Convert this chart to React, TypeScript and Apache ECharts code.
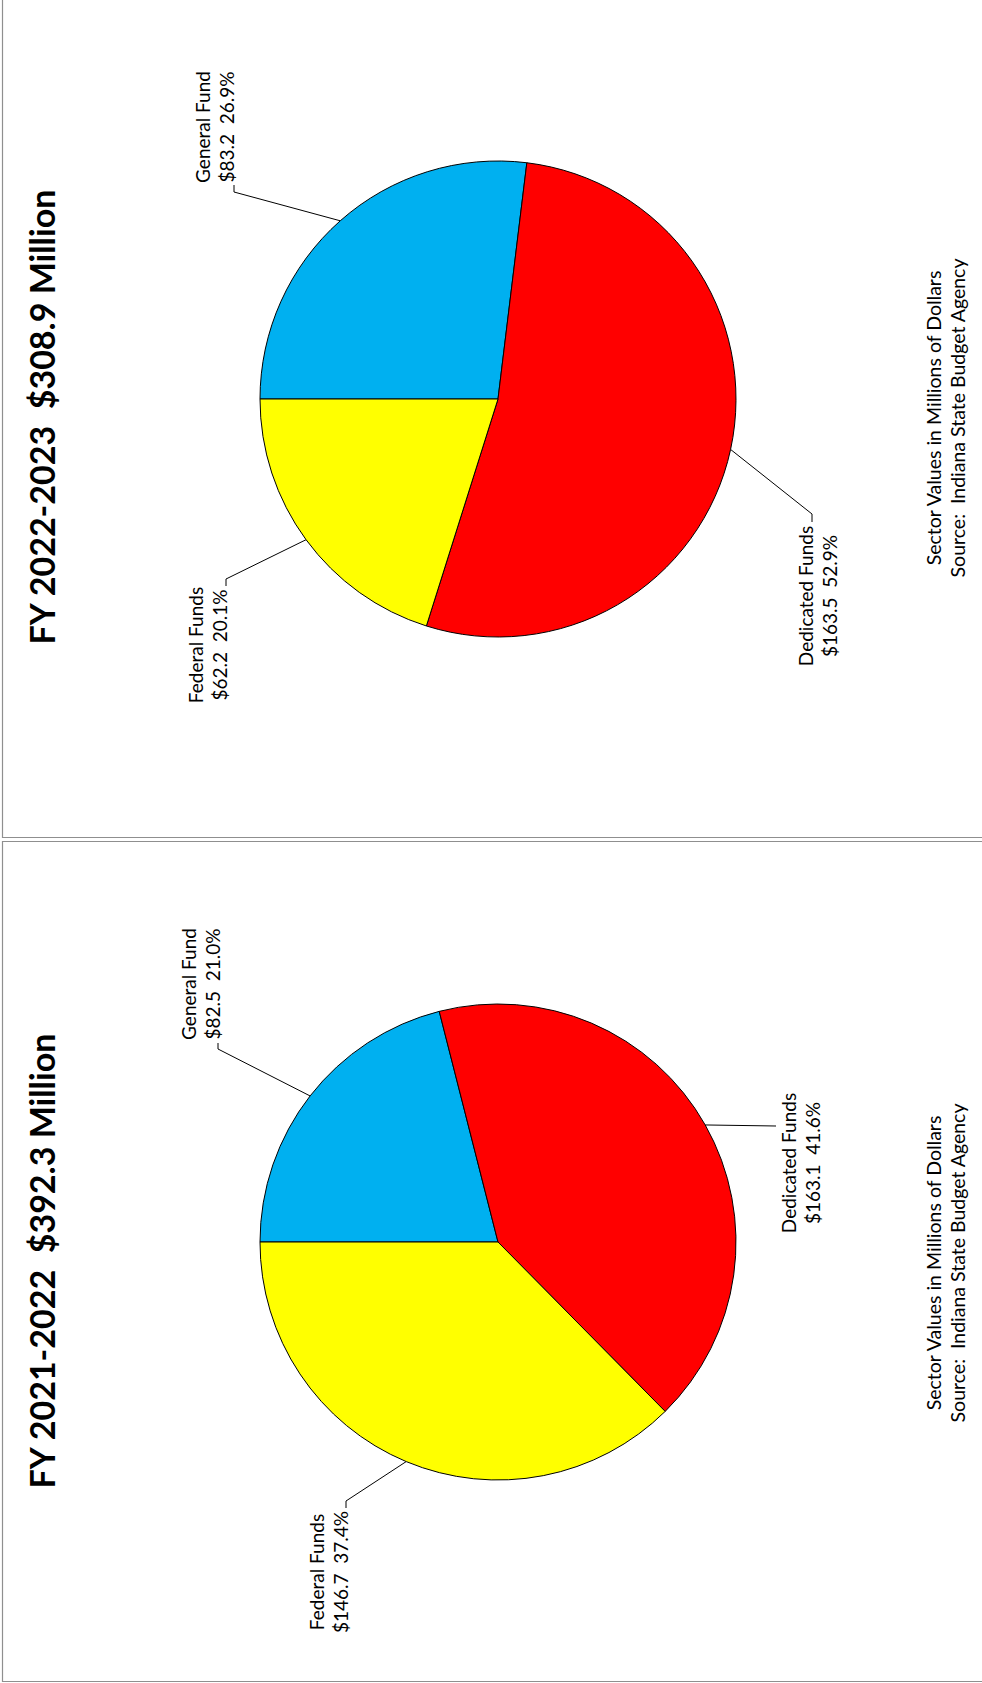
import React, { useEffect, useRef } from 'react';
import * as echarts from 'echarts';

// ---------- data ----------
const categories = ['General Fund', 'Dedicated Funds', 'Federal Funds'];
const fy2223Values = [83.2, 163.5, 62.2];
const fy2122Values = [82.5, 163.1, 146.7];
const fiscalYears = ['FY 2022-2023', 'FY 2021-2022'];
const noteLines = ['Sector Values in Millions of Dollars', 'Source:  Indiana State Budget Agency'];
const sliceColors = ['#00B0F0', '#FF0000', '#FFFF00'];

// ---------- layout (style only) ----------
const W = 982;
const H = 1683;
const PIE_CX = 498;
const PIE_R = 238;
const FONT = 'Lato, "Noto Sans", sans-serif';

type LabelPos = { x: number; y: number; pts: number[][] };
const panels: { values: number[]; year: string; cy: number; titleY: number; noteY: number; labels: LabelPos[] }[] = [
  {
    values: fy2223Values,
    year: fiscalYears[0],
    cy: 399,
    titleY: 417,
    noteY: 418,
    labels: [
      { x: 214, y: 127, pts: [[234, 192], [234, 185]] },
      { x: 817, y: 596, pts: [[812, 514], [812, 522]] },
      { x: 207, y: 645, pts: [[226, 579], [226, 586]] },
    ],
  },
  {
    values: fy2122Values,
    year: fiscalYears[1],
    cy: 1242,
    titleY: 1261,
    noteY: 1263,
    labels: [
      { x: 200, y: 984, pts: [[218, 1049], [218, 1043]] },
      { x: 800, y: 1163, pts: [[776, 1126], [776, 1126]] },
      { x: 328, y: 1572, pts: [[346, 1501], [346, 1508]] },
    ],
  },
];

function sum(a: number[]) {
  return a.reduce((s, v) => s + v, 0);
}

function edgeAnchor(values: number[], i: number, cx: number, cy: number, r: number) {
  const total = sum(values);
  let cum = 0;
  for (let k = 0; k < i; k++) cum += values[k];
  const mid = cum + values[i] / 2;
  const deg = 180 - (mid / total) * 360;
  const rad = (deg * Math.PI) / 180;
  return [cx + r * Math.cos(rad), cy - r * Math.sin(rad)];
}

export default function App() {
  const ref = useRef<HTMLDivElement>(null);

  useEffect(() => {
    document.body.style.margin = '0';
    if (!ref.current) return;
    const chart = echarts.init(ref.current, null, { renderer: 'svg' });

    const series: any[] = panels.map((p) => {
      const total = sum(p.values);
      return {
        type: 'pie',
        center: [PIE_CX, p.cy],
        radius: [0, PIE_R],
        startAngle: 180,
        clockwise: true,
        avoidLabelOverlap: false,
        silent: true,
        itemStyle: { borderColor: '#000', borderWidth: 1 },
        label: {
          show: true,
          position: 'outside',
          color: '#000',
          fontFamily: FONT,
          fontSize: 19,
          lineHeight: 24,
          align: 'center',
          formatter: (q: any) =>
            `${q.name}\n$${Number(q.value).toFixed(1)}  ${((q.value / total) * 100).toFixed(1)}%`,
        },
        labelLine: { show: true, length: 10, length2: 10, lineStyle: { color: '#000', width: 1 } },
        labelLayout: (params: any) => {
          const lp = p.labels[params.dataIndex];
          const a = edgeAnchor(p.values, params.dataIndex, PIE_CX, p.cy, PIE_R);
          return {
            x: lp.x,
            y: lp.y,
            rotate: 90,
            align: 'center',
            verticalAlign: 'middle',
            labelLinePoints: [a, lp.pts[0], lp.pts[1]],
          };
        },
        data: categories.map((c, i) => ({
          name: c,
          value: p.values[i],
          itemStyle: { color: sliceColors[i] },
        })),
      };
    });

    const graphic: any[] = [
      {
        type: 'rect',
        shape: { x: 2.5, y: -5, width: W + 20, height: 842.5 },
        style: { fill: 'none', stroke: '#8f8f8f', lineWidth: 1.2 },
        silent: true,
      },
      {
        type: 'rect',
        shape: { x: 2.5, y: 841.5, width: W + 20, height: 840 },
        style: { fill: 'none', stroke: '#8f8f8f', lineWidth: 1.2 },
        silent: true,
      },
    ];
    panels.forEach((p) => {
      graphic.push({
        type: 'text',
        x: 41,
        y: p.titleY,
        rotation: Math.PI / 2,
        silent: true,
        style: {
          text: `${p.year}  $${sum(p.values).toFixed(1)} Million`,
          fill: '#000',
          font: `bold 34px ${FONT}`,
          align: 'center',
          verticalAlign: 'middle',
          textAlign: 'center',
          textVerticalAlign: 'middle',
        },
      });
      noteLines.forEach((t, k) => {
        graphic.push({
          type: 'text',
          x: 933 + k * 24,
          y: p.noteY,
          rotation: Math.PI / 2,
          silent: true,
          style: {
            text: t,
            fill: '#000',
            font: `19.5px ${FONT}`,
            align: 'center',
            verticalAlign: 'middle',
            textAlign: 'center',
            textVerticalAlign: 'middle',
          },
        });
      });
    });

    chart.setOption({
      animation: false,
      backgroundColor: '#fff',
      series,
      graphic,
    });

    return () => chart.dispose();
  }, []);

  return <div ref={ref} style={{ width: W, height: H }} />;
}
